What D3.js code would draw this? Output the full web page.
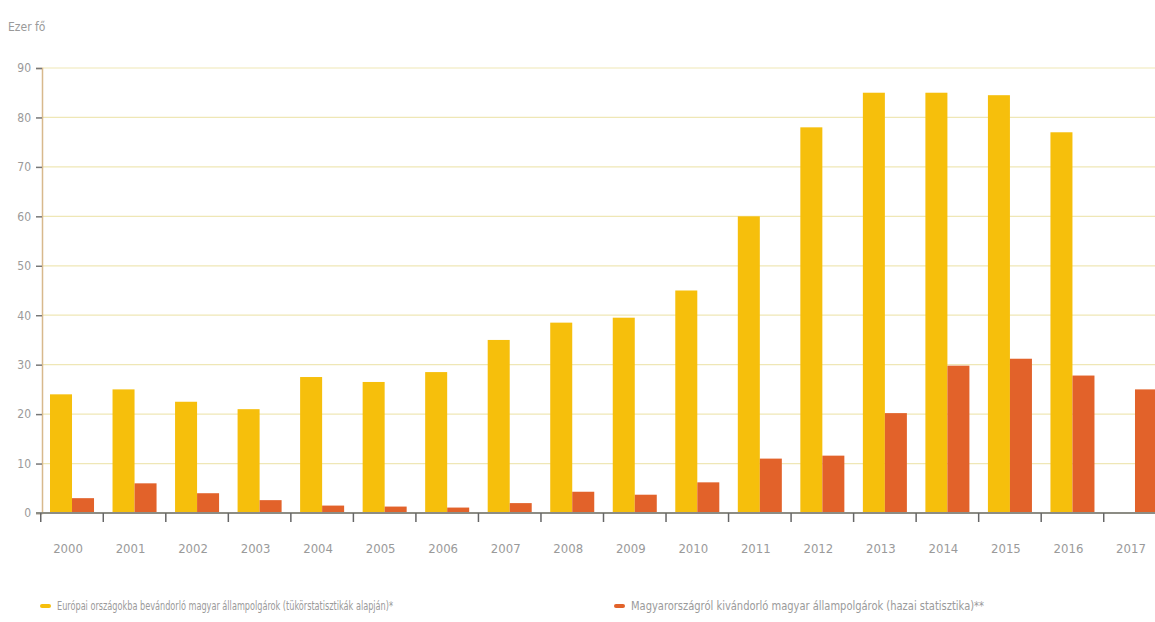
<!DOCTYPE html>
<html><head><meta charset="utf-8">
<script src="https://cdn.jsdelivr.net/npm/d3@7"></script>
<style>
body{margin:0;background:#fff;}
svg{display:block;}
text{font-family:"DejaVu Sans Condensed","Liberation Sans Narrow","Liberation Sans",sans-serif;fill:#9a9a9a;}
</style></head><body>
<svg id="chart" width="1155" height="622"></svg>
<script>
const years = ["2000","2001","2002","2003","2004","2005","2006","2007","2008","2009","2010","2011","2012","2013","2014","2015","2016","2017"];
const europeValues = [24,25,22.5,21,27.5,26.5,28.5,35,38.5,39.5,45,60,78,85,85,84.5,77,null];
const hungaryValues = [3,6,4,2.6,1.5,1.3,1.1,2,4.3,3.7,6.2,11,11.6,20.2,29.8,31.2,27.8,25];
const yTicks = [0,10,20,30,40,50,60,70,80,90];
const seriesNames = ["Európai országokba bevándorló magyar állampolgárok (tükörstatisztikák alapján)*","Magyarországról kivándorló magyar állampolgárok (hazai statisztika)**"];
const colors = ["#f6bf0c","#e2622a"];
const unitLabel = "Ezer fő";

const svg = d3.select("#chart");
const x0 = 42, x1 = 1165, yTop = 68, yBot = 513;
const x = d3.scaleBand().domain(years).range([x0, x1]).paddingInner(0.296).paddingOuter(0.128);
const sub = d3.scaleBand().domain([0,1]).range([0, x.bandwidth()]);
const y = d3.scaleLinear().domain([0,90]).range([yBot, yTop]);

// gridlines
svg.append("g").selectAll("line").data(yTicks.filter(d=>d>0)).join("line")
  .attr("x1", x0).attr("x2", 1155).attr("y1", d=>y(d)).attr("y2", d=>y(d))
  .attr("stroke", "#efe7b6").attr("stroke-width", 1.2);

// bars
const series = [europeValues, hungaryValues];
series.forEach((vals, si) => {
  svg.append("g").selectAll("rect").data(years.map((yr,i)=>({yr, v: vals[i]})).filter(d=>d.v!=null)).join("rect")
    .attr("x", d => x(d.yr) + sub(si))
    .attr("width", sub.bandwidth())
    .attr("y", d => y(d.v))
    .attr("height", d => y(0) - y(d.v))
    .attr("fill", colors[si]);
});

// y axis
const yAxis = d3.axisLeft(y).tickValues(yTicks).tickSize(6).tickPadding(5);
const gy = svg.append("g").attr("transform", `translate(${x0},0)`).call(yAxis);
gy.select(".domain").attr("stroke", "#d8b98c").attr("stroke-width", 1.5);
gy.selectAll(".tick line").attr("stroke", "#777").attr("stroke-width", 1.5);
gy.selectAll(".tick text").attr("font-size", 12).attr("fill", "#a0a0a0");

// x axis
const step = x.step();
const gapHalf = (step - x.bandwidth()) / 2;
const gx = svg.append("g").attr("transform", `translate(0,${yBot})`);
gx.append("line").attr("x1", 36).attr("x2", 1155).attr("y1", 0).attr("y2", 0).attr("stroke", "#8c8c84").attr("stroke-width", 2);
gx.selectAll("line.tk").data(years).join("line").attr("class","tk")
  .attr("x1", d => x(d) - gapHalf).attr("x2", d => x(d) - gapHalf)
  .attr("y1", 0).attr("y2", 9).attr("stroke", "#666").attr("stroke-width", 1.5);
gx.selectAll("text").data(years).join("text")
  .attr("x", d => x(d) + x.bandwidth()/2 - 4).attr("y", 40)
  .attr("text-anchor", "middle").attr("font-size", 13).attr("fill", "#a0a0a0")
  .text(d => d);

// unit label
svg.append("text").attr("x", 8).attr("y", 31).attr("font-size", 12).attr("fill", "#a0a0a0").text(unitLabel);

// legend
const legendX = [40, 614];
const legendW = [336, 353];
seriesNames.forEach((name, i) => {
  const g = svg.append("g").attr("transform", `translate(${legendX[i]},606)`);
  g.append("rect").attr("x", 0).attr("y", -2).attr("width", 11).attr("height", 4).attr("rx", 2).attr("fill", colors[i]);
  g.append("text").attr("x", 17).attr("y", 4).attr("font-size", 12).attr("fill", "#a8a8a8")
    .attr("textLength", legendW[i]).attr("lengthAdjust", "spacingAndGlyphs").text(name);
});
</script>
</body></html>
